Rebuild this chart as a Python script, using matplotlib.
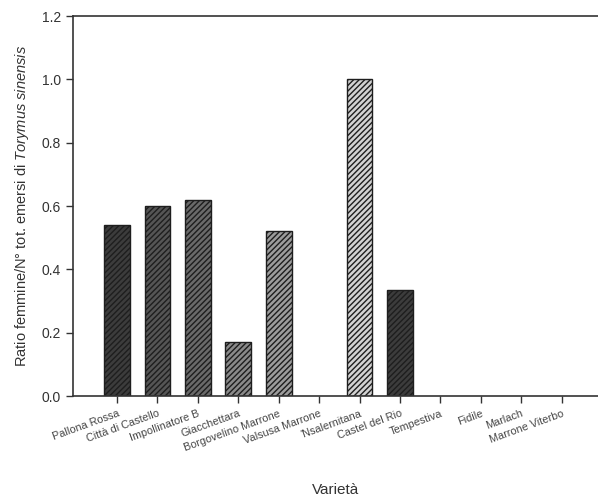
import matplotlib
matplotlib.use("Agg")
import matplotlib.pyplot as plt
import numpy as np

plt.rcParams['font.family'] = ['Liberation Sans', 'DejaVu Sans']
plt.rcParams['mathtext.fontset'] = 'custom'
plt.rcParams['mathtext.it'] = 'Liberation Sans:italic'
plt.rcParams['mathtext.rm'] = 'Liberation Sans'
plt.rcParams['hatch.linewidth'] = 1.0
plt.rcParams['hatch.color'] = '#1e1e1e'

varieta = ['Pallona Rossa', 'Città di Castello', 'Impollinatore B', 'Giacchettara',
           'Borgovelino Marrone', 'Valsusa Marrone', "'Nsalernitana", 'Castel del Rio',
           'Tempestiva', 'Fidile', 'Marlach', 'Marrone Viterbo']
ratio = [0.54, 0.60, 0.62, 0.17, 0.52, 0.0, 1.0, 0.335, 0.0, 0.0, 0.0, 0.0]
colori = ['#3c3c3c', '#555555', '#6a6a6a', '#8a8a8a', '#9c9c9c', '#9c9c9c',
          '#d2d2d2', '#3c3c3c', '#888888', '#888888', '#888888', '#888888']

fig = plt.figure(figsize=(5.98, 4.99), dpi=100)
ax = fig.add_axes([73/598, 1 - 396/499, 1 - 73/598, (396 - 16)/499])

x = np.arange(len(varieta))
for i in range(len(varieta)):
    if ratio[i] > 0:
        ax.bar(x[i], ratio[i], width=0.64, color=colori[i], edgecolor='#1e1e1e',
               linewidth=1.0, hatch='//////')

ax.set_xlim(-1.09, 11.9)
ax.set_ylim(0, 1.2)
ax.set_yticks([0.0, 0.2, 0.4, 0.6, 0.8, 1.0, 1.2])
ax.set_yticklabels(['0.0', '0.2', '0.4', '0.6', '0.8', '1.0', '1.2'], fontsize=10, color='#333333')
ax.set_xticks(x)
ax.set_xticklabels(varieta, rotation=20, ha='right', rotation_mode='anchor', fontsize=7.8, color='#444444')
ax.tick_params(axis='both', direction='out', length=5, width=1, color='#333333')
ax.tick_params(axis='x', pad=4)

for s in ['left', 'bottom', 'top']:
    ax.spines[s].set_color('#333333')
    ax.spines[s].set_linewidth(1.2)
ax.spines['right'].set_visible(False)

ax.set_ylabel('Ratio femmine/N° tot. emersi di $\\it{Torymus\\ sinensis}$', fontsize=10.5, color='#333333', labelpad=8)
ax.set_xlabel('Varietà', fontsize=11, color='#333333', labelpad=22)

fig.savefig('out.png', dpi=100)
